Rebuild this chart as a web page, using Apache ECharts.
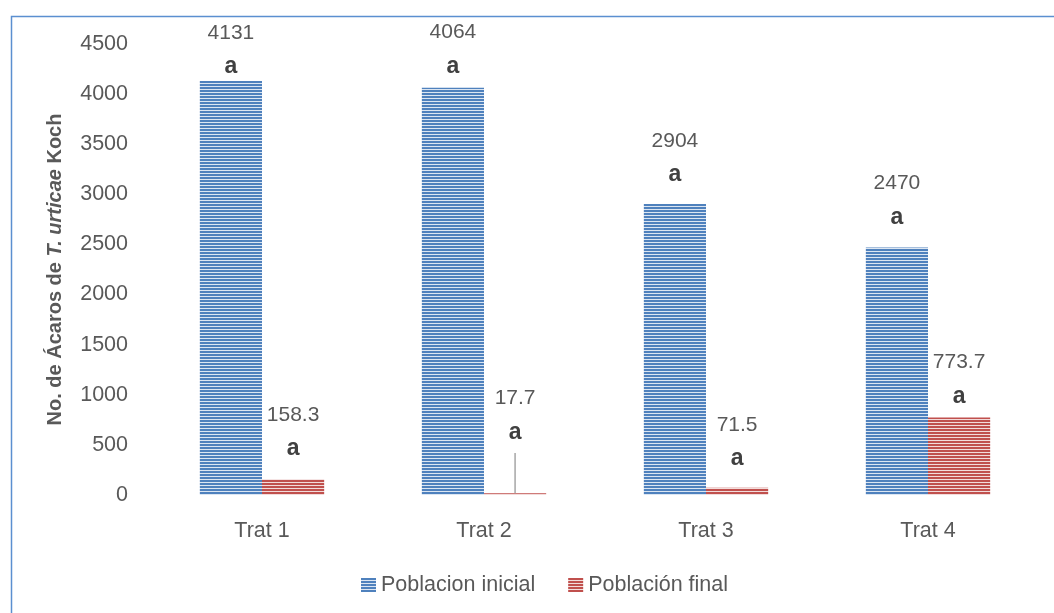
<!DOCTYPE html>
<html>
<head>
<meta charset="utf-8">
<script src="https://cdn.jsdelivr.net/npm/echarts@6/dist/echarts.min.js"></script>
<style>html,body{margin:0;padding:0;background:#fff}#c{width:1054px;height:613px}</style>
</head>
<body>
<div id="c"></div>
<script>
// ---- data ----
const categories = ['Trat 1', 'Trat 2', 'Trat 3', 'Trat 4'];
const seriesNames = ['Poblacion inicial', 'Población final'];
const inicial = [4131, 4064, 2904, 2470];
const final = [158.3, 17.7, 71.5, 773.7];
const inicialLetters = ['a', 'a', 'a', 'a'];
const finalLetters = ['a', 'a', 'a', 'a'];
const finalErrors = [0, 402, 0, 0];
const yTicks = [0, 500, 1000, 1500, 2000, 2500, 3000, 3500, 4000, 4500];

// ---- styling ----
const labelDistInicial = [-1, 6, 14, 15];
const labelDistFinal = [15, 46, 14, 6];
const TEXT = '#595959';
const FONT = '"Liberation Sans", Arial, sans-serif';

function stripes(dark, light) {
  const c = document.createElement('canvas');
  c.width = 4; c.height = 3;
  const g = c.getContext('2d');
  g.fillStyle = light; g.fillRect(0, 0, 4, 3);
  g.fillStyle = dark; g.fillRect(0, 0, 4, 2);
  return { image: c, repeat: 'repeat' };
}
const bluePat = stripes('#4f81bd', '#dce6f2');
const redPat = stripes('#c0504d', '#f2dcdb');

function labelCfg() {
  return {
    show: true, position: 'top',
    formatter: p => '{v|' + p.value + '}\n{a|' + p.data.letter + '}',
    rich: {
      v: { fontSize: 21, color: TEXT, fontFamily: FONT, lineHeight: 38, align: 'center' },
      a: { fontSize: 23, color: '#404040', fontWeight: 'bold', fontFamily: FONT, lineHeight: 30, align: 'center' }
    }
  };
}
function items(vals, letters, dists) {
  return vals.map((v, i) => ({ value: v, letter: letters[i], label: { distance: dists[i] } }));
}

const chart = echarts.init(document.getElementById('c'), null, { renderer: 'canvas' });
chart.setOption({
  animation: false,
  backgroundColor: '#fff',
  graphic: [{
    type: 'rect', left: 9, top: 14, silent: true,
    shape: { width: 2000, height: 2000 },
    style: { fill: 'none', stroke: '#5b8fd0', lineWidth: 1.5 }
  }],
  grid: { left: 151, right: 15, top: 44, bottom: 118 },
  legend: {
    left: 356, top: 569, itemWidth: 15, itemHeight: 14, itemGap: 33,
    icon: 'rect',
    textStyle: { fontSize: 21.5, color: TEXT, fontFamily: FONT },
    data: seriesNames
  },
  xAxis: {
    type: 'category', data: categories,
    axisLine: { show: false }, axisTick: { show: false },
    axisLabel: { fontSize: 21.5, color: TEXT, fontFamily: FONT, margin: 25 }
  },
  yAxis: {
    type: 'value', min: yTicks[0], max: yTicks[yTicks.length - 1], interval: 500,
    splitLine: { show: false }, axisLine: { show: false }, axisTick: { show: false },
    axisLabel: { fontSize: 21.5, color: TEXT, fontFamily: FONT, margin: 23, formatter: v => String(v) },
    name: '{b|No. de Ácaros de }{i|T. urticae}{b| Koch}',
    nameLocation: 'middle', nameGap: 86,
    nameTextStyle: {
      rich: {
        b: { fontSize: 20, fontWeight: 'bold', color: TEXT, fontFamily: FONT },
        i: { fontSize: 20, fontWeight: 'bold', fontStyle: 'italic', color: TEXT, fontFamily: FONT }
      }
    }
  },
  series: [
    {
      name: seriesNames[0], type: 'bar', barGap: '0%', barCategoryGap: '44%',
      itemStyle: { color: bluePat },
      label: labelCfg(),
      data: items(inicial, inicialLetters, labelDistInicial)
    },
    {
      name: seriesNames[1], type: 'bar',
      itemStyle: { color: redPat },
      label: labelCfg(),
      data: items(final, finalLetters, labelDistFinal)
    },
    {
      type: 'custom', silent: true, z: 5,
      data: final.map((v, i) => [i, v, v + finalErrors[i]]),
      renderItem: (params, api) => {
        const i = api.value(0);
        if (!finalErrors[i]) return null;
        const band = api.size([1, 0])[0];
        const off = band * 0.14;
        const p0 = api.coord([i, api.value(1)]);
        const p1 = api.coord([i, api.value(2)]);
        return {
          type: 'line',
          shape: { x1: p0[0] + off, y1: p0[1], x2: p1[0] + off, y2: p1[1] },
          style: { stroke: '#a6a6a6', lineWidth: 1.5 }
        };
      }
    }
  ]
});
</script>
</body>
</html>
